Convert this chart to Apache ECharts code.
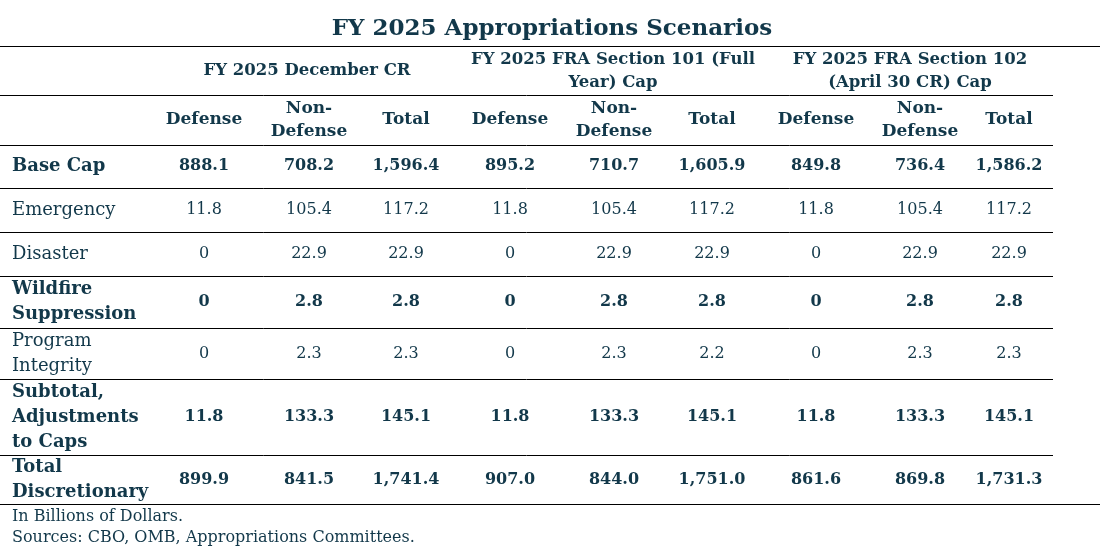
<!DOCTYPE html>
<html><head><meta charset="utf-8">
<script src="https://cdn.jsdelivr.net/npm/echarts@6/dist/echarts.min.js"></script>
<style>html,body{margin:0;padding:0;background:#fff}#c{width:1105px;height:550px}</style>
</head><body><div id="c"></div>
<script>
const title = 'FY 2025 Appropriations Scenarios';
const groups = ['FY 2025 December CR', 'FY 2025 FRA Section 101 (Full\nYear) Cap', 'FY 2025 FRA Section 102\n(April 30 CR) Cap'];
const colHeaders = ['Defense', 'Non-\nDefense', 'Total'];
const rowLabels = ['Base Cap', 'Emergency', 'Disaster', 'Wildfire\nSuppression', 'Program\nIntegrity', 'Subtotal,\nAdjustments\nto Caps', 'Total\nDiscretionary'];
const rowBold = [true, false, false, true, false, true, true];
const valBold = [true, false, false, true, false, true, true];
const values = [
  ['888.1','708.2','1,596.4','895.2','710.7','1,605.9','849.8','736.4','1,586.2'],
  ['11.8','105.4','117.2','11.8','105.4','117.2','11.8','105.4','117.2'],
  ['0','22.9','22.9','0','22.9','22.9','0','22.9','22.9'],
  ['0','2.8','2.8','0','2.8','2.8','0','2.8','2.8'],
  ['0','2.3','2.3','0','2.3','2.2','0','2.3','2.3'],
  ['11.8','133.3','145.1','11.8','133.3','145.1','11.8','133.3','145.1'],
  ['899.9','841.5','1,741.4','907.0','844.0','1,751.0','861.6','869.8','1,731.3']
];
const notes = ['In Billions of Dollars.', 'Sources: CBO, OMB, Appropriations Committees.'];

const C = '#12384a', F = 'DejaVu Serif';
const colX = [204, 309, 406, 510, 614, 712, 816, 920, 1009];
const groupX = [307, 613, 910];
const rowY = [166, 210, 254, 302, 354, 417, 480];
const rowLines = [188, 232, 276, 328, 379, 455];
const g = [];
function txt(x, y, s, size, bold, align, lh) {
  g.push({type:'text', x, y, style:{text:s, fill:C, font:(bold?'bold ':'')+size+'px "'+F+'"', align:align||'center', verticalAlign:'middle', lineHeight:lh||25}});
}
function line(x1, x2, y) {
  g.push({type:'line', shape:{x1, y1:y+0.5, x2, y2:y+0.5}, style:{stroke:'#000', lineWidth:1}});
}
txt(552, 29, title, 23, true);
line(0, 1100, 46);
groups.forEach((s,i)=>txt(groupX[i], 71, s, 16.5, true, 'center', 23));
line(0, 1053, 95);
colX.forEach((x,i)=>txt(x, 120, colHeaders[i%3], 17, true, 'center', 23));
line(0, 1053, 145);
rowLabels.forEach((s,r)=>{
  txt(12, rowY[r], s, 18, rowBold[r], 'left');
  values[r].forEach((v,c)=>txt(colX[c], rowY[r], v, 16, valBold[r]));
});
rowLines.forEach(y=>line(0, 1053, y));
line(0, 1100, 504);
notes.forEach((s,i)=>g.push({type:'text', x:12, y:517+i*21, style:{text:s, fill:C, font:'16px "'+F+'"', align:'left', verticalAlign:'middle'}}));
const ch = echarts.init(document.getElementById('c'));
ch.setOption({animation:false, graphic:{elements:g}});
</script></body></html>
